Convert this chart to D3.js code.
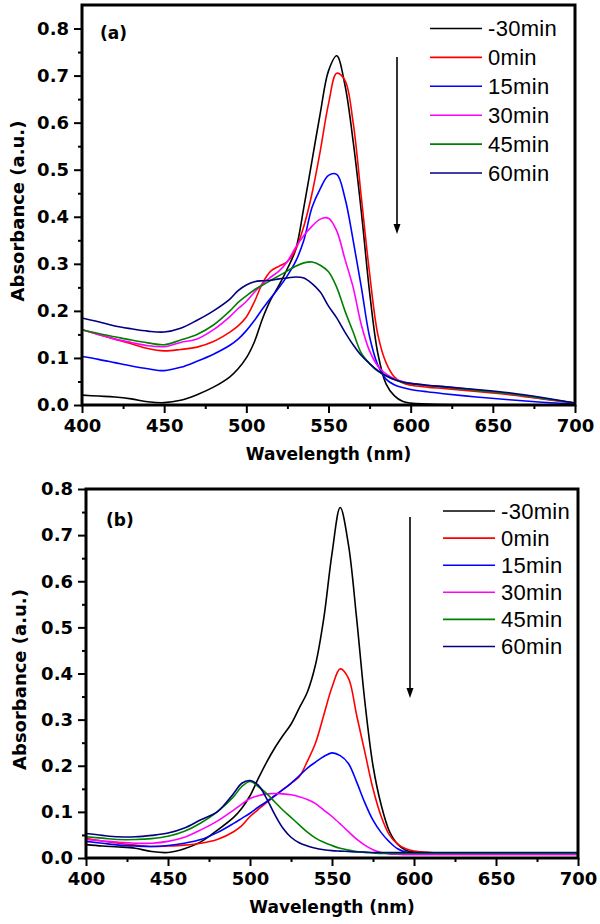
<!DOCTYPE html>
<html><head><meta charset="utf-8">
<script src="https://cdn.jsdelivr.net/npm/d3@7"></script>
<style>body{margin:0;background:#fff}svg{display:block}</style>
</head><body><svg id="c" width="600" height="924"></svg>
<script>
// ---------------- DATA ----------------
const wavelengths = [400,410,420,430,440,450,460,470,480,490,495,500,505,510,515,520,525,530,535,540,545,550,555,560,565,570,575,580,585,590,595,600,610,620,640,660,680,700];
const seriesNames = ["-30min","0min","15min","30min","45min","60min"];
const xTickLabels = ["400","450","500","550","600","650","700"];
const yTickLabels = ["0.0","0.1","0.2","0.3","0.4","0.5","0.6","0.7","0.8"];

// Panel (a)
const a_m30 = [0.021,0.019,0.017,0.013,0.007,0.005,0.010,0.022,0.038,0.060,0.077,0.100,0.135,0.185,0.225,0.255,0.290,0.330,0.420,0.520,0.620,0.710,0.742,0.680,0.560,0.410,0.240,0.110,0.045,0.020,0.008,0.004,0.002,0.001,0,0,0,0];
const a_0   = [0.160,0.150,0.140,0.130,0.120,0.115,0.118,0.123,0.135,0.155,0.168,0.187,0.220,0.260,0.285,0.295,0.305,0.330,0.380,0.450,0.540,0.640,0.705,0.690,0.600,0.440,0.280,0.150,0.090,0.060,0.047,0.042,0.038,0.035,0.029,0.022,0.013,0.004];
const a_15  = [0.103,0.097,0.090,0.083,0.077,0.073,0.080,0.093,0.108,0.127,0.140,0.158,0.180,0.205,0.228,0.250,0.275,0.305,0.350,0.420,0.460,0.488,0.490,0.440,0.350,0.250,0.145,0.085,0.055,0.043,0.037,0.033,0.028,0.024,0.017,0.011,0.006,0.002];
const a_30  = [0.160,0.150,0.140,0.133,0.126,0.124,0.133,0.140,0.160,0.188,0.205,0.220,0.240,0.258,0.272,0.285,0.305,0.335,0.360,0.380,0.395,0.397,0.370,0.310,0.250,0.170,0.115,0.083,0.066,0.056,0.050,0.046,0.042,0.039,0.032,0.024,0.014,0.004];
const a_45  = [0.160,0.152,0.145,0.138,0.132,0.128,0.138,0.150,0.170,0.200,0.218,0.232,0.245,0.255,0.265,0.275,0.285,0.295,0.302,0.304,0.297,0.283,0.250,0.200,0.155,0.110,0.088,0.072,0.062,0.054,0.048,0.045,0.041,0.038,0.031,0.024,0.014,0.004];
const a_60  = [0.185,0.177,0.168,0.162,0.157,0.155,0.163,0.180,0.200,0.225,0.243,0.255,0.262,0.264,0.265,0.268,0.270,0.272,0.270,0.258,0.240,0.210,0.185,0.155,0.128,0.105,0.088,0.073,0.062,0.054,0.049,0.046,0.042,0.039,0.033,0.026,0.016,0.004];

// Panel (b)
const b_m30 = [0.029,0.026,0.024,0.021,0.014,0.012,0.020,0.035,0.060,0.088,0.108,0.135,0.172,0.207,0.238,0.265,0.290,0.325,0.360,0.420,0.520,0.660,0.760,0.680,0.520,0.340,0.200,0.115,0.058,0.030,0.017,0.013,0.011,0.010,0.010,0.010,0.010,0.010];
const b_0   = [0.043,0.037,0.032,0.028,0.025,0.026,0.028,0.032,0.040,0.057,0.070,0.090,0.105,0.120,0.134,0.148,0.162,0.176,0.210,0.250,0.310,0.370,0.410,0.390,0.310,0.230,0.150,0.090,0.050,0.030,0.020,0.015,0.012,0.011,0.011,0.011,0.011,0.011];
const b_15  = [0.036,0.032,0.028,0.026,0.025,0.027,0.032,0.040,0.055,0.075,0.086,0.097,0.110,0.122,0.135,0.148,0.162,0.178,0.195,0.208,0.220,0.228,0.222,0.205,0.165,0.120,0.082,0.055,0.035,0.020,0.013,0.011,0.010,0.010,0.010,0.010,0.010,0.010];
const b_30  = [0.040,0.037,0.034,0.032,0.032,0.036,0.045,0.061,0.080,0.104,0.117,0.129,0.135,0.139,0.140,0.139,0.137,0.133,0.127,0.118,0.104,0.090,0.074,0.057,0.041,0.028,0.018,0.012,0.009,0.008,0.007,0.007,0.007,0.007,0.007,0.007,0.007,0.007];
const b_45  = [0.046,0.043,0.040,0.040,0.042,0.047,0.058,0.076,0.100,0.133,0.155,0.166,0.155,0.140,0.122,0.104,0.088,0.072,0.056,0.043,0.034,0.027,0.021,0.017,0.014,0.012,0.011,0.010,0.010,0.010,0.010,0.010,0.010,0.010,0.010,0.010,0.010,0.010];
const b_60  = [0.053,0.049,0.046,0.046,0.049,0.054,0.065,0.083,0.100,0.140,0.162,0.168,0.158,0.130,0.095,0.065,0.045,0.033,0.026,0.021,0.018,0.016,0.015,0.014,0.013,0.013,0.012,0.012,0.012,0.012,0.012,0.012,0.012,0.012,0.012,0.012,0.012,0.012];

// ---------------- STYLE / LAYOUT ----------------
const colors = ["#000000","#ff0000","#0000ff","#ff00ff","#008000","#000080"];
const panels = [
  {label:"(a)", series:[a_m30,a_0,a_15,a_30,a_45,a_60], left:82, right:575, top:5, bottom:405, yMax:0.85,
   legX:430, legY:28.5, legStep:28.9, arrowX:397, arrowY0:57, arrowY1:234, labelX:100, labelY:39, yTitleX:24},
  {label:"(b)", series:[b_m30,b_0,b_15,b_30,b_45,b_60], left:86, right:578, top:489, bottom:858, yMax:0.8,
   legX:443, legY:511, legStep:27.1, arrowX:410, arrowY0:517, arrowY1:698, labelX:106, labelY:526, yTitleX:26}
];

const svg = d3.select("#c");
const boldFont = "'DejaVu Sans', sans-serif";
const legFont = "'Liberation Sans', Arial, sans-serif";

panels.forEach(p => {
  const x = d3.scaleLinear().domain([400,700]).range([p.left,p.right]);
  const y = d3.scaleLinear().domain([0,p.yMax]).range([p.bottom,p.top]);
  const g = svg.append("g");

  const cid = "clip" + p.label.replace(/\W/g,"");
  svg.append("clipPath").attr("id",cid).append("rect")
    .attr("x",p.left).attr("y",p.top).attr("width",p.right-p.left).attr("height",p.bottom-p.top);

  const line = d3.line().x((d,i)=>x(wavelengths[i])).y(d=>y(d)).curve(d3.curveCatmullRom.alpha(0.5));
  p.series.forEach((s,k) => {
    g.append("path").datum(s).attr("d",line).attr("fill","none")
      .attr("stroke",colors[k]).attr("stroke-width",1.6).attr("stroke-linejoin","round")
      .attr("clip-path",`url(#${cid})`);
  });

  const minorY = d3.range(0.05, p.yMax, 0.1);
  const minorX = d3.range(425, 700, 50);
  g.append("g").attr("transform",`translate(${p.left},0)`)
    .call(d3.axisLeft(y).tickValues(minorY).tickSize(4).tickFormat(""))
    .call(a=>a.select(".domain").remove())
    .call(a=>a.selectAll("line").attr("stroke","#000").attr("stroke-width",2));
  g.append("g").attr("transform",`translate(0,${p.bottom})`)
    .call(d3.axisBottom(x).tickValues(minorX).tickSize(4).tickFormat(""))
    .call(a=>a.select(".domain").remove())
    .call(a=>a.selectAll("line").attr("stroke","#000").attr("stroke-width",2));

  const majorY = yTickLabels.map(Number);
  const majorX = xTickLabels.map(Number);
  g.append("g").attr("transform",`translate(${p.left},0)`)
    .call(d3.axisLeft(y).tickValues(majorY).tickSize(8).tickPadding(5).tickFormat((d,i)=>yTickLabels[i]))
    .call(a=>a.select(".domain").remove())
    .call(a=>a.selectAll("line").attr("stroke","#000").attr("stroke-width",2))
    .call(a=>a.selectAll("text").attr("font-family",boldFont).attr("font-weight","bold").attr("font-size",18).attr("fill","#000"));
  g.append("g").attr("transform",`translate(0,${p.bottom})`)
    .call(d3.axisBottom(x).tickValues(majorX).tickSize(8).tickPadding(6).tickFormat((d,i)=>xTickLabels[i]))
    .call(a=>a.select(".domain").remove())
    .call(a=>a.selectAll("line").attr("stroke","#000").attr("stroke-width",2))
    .call(a=>a.selectAll("text").attr("font-family",boldFont).attr("font-weight","bold").attr("font-size",18).attr("fill","#000"));

  g.append("rect").attr("x",p.left).attr("y",p.top).attr("width",p.right-p.left).attr("height",p.bottom-p.top)
    .attr("fill","none").attr("stroke","#000").attr("stroke-width",3);

  g.append("text").attr("x",(p.left+p.right)/2).attr("y",p.bottom+55).attr("text-anchor","middle")
    .attr("font-family",boldFont).attr("font-weight","bold").attr("font-size",17).text("Wavelength (nm)");
  g.append("text").attr("transform",`translate(${p.yTitleX},${(p.top+p.bottom)/2+6}) rotate(-90)`).attr("text-anchor","middle")
    .attr("font-family",boldFont).attr("font-weight","bold").attr("font-size",18).text("Absorbance (a.u.)");

  g.append("text").attr("x",p.labelX).attr("y",p.labelY)
    .attr("font-family",boldFont).attr("font-weight","bold").attr("font-size",17).text(p.label);

  seriesNames.forEach((n,k) => {
    const ly = p.legY + k*p.legStep;
    g.append("line").attr("x1",p.legX).attr("x2",p.legX+52).attr("y1",ly).attr("y2",ly)
      .attr("stroke",colors[k]).attr("stroke-width",1.6);
    g.append("text").attr("x",p.legX+58).attr("y",ly+7.8).attr("letter-spacing",0.3)
      .attr("font-family",legFont).attr("font-size",22).attr("fill","#000").text(n);
  });

  g.append("line").attr("x1",p.arrowX).attr("x2",p.arrowX).attr("y1",p.arrowY0).attr("y2",p.arrowY1-8)
    .attr("stroke","#000").attr("stroke-width",1.6);
  g.append("path").attr("d",`M${p.arrowX-3.5},${p.arrowY1-10} L${p.arrowX+3.5},${p.arrowY1-10} L${p.arrowX},${p.arrowY1} Z`)
    .attr("fill","#000");
});
</script>
</body></html>
